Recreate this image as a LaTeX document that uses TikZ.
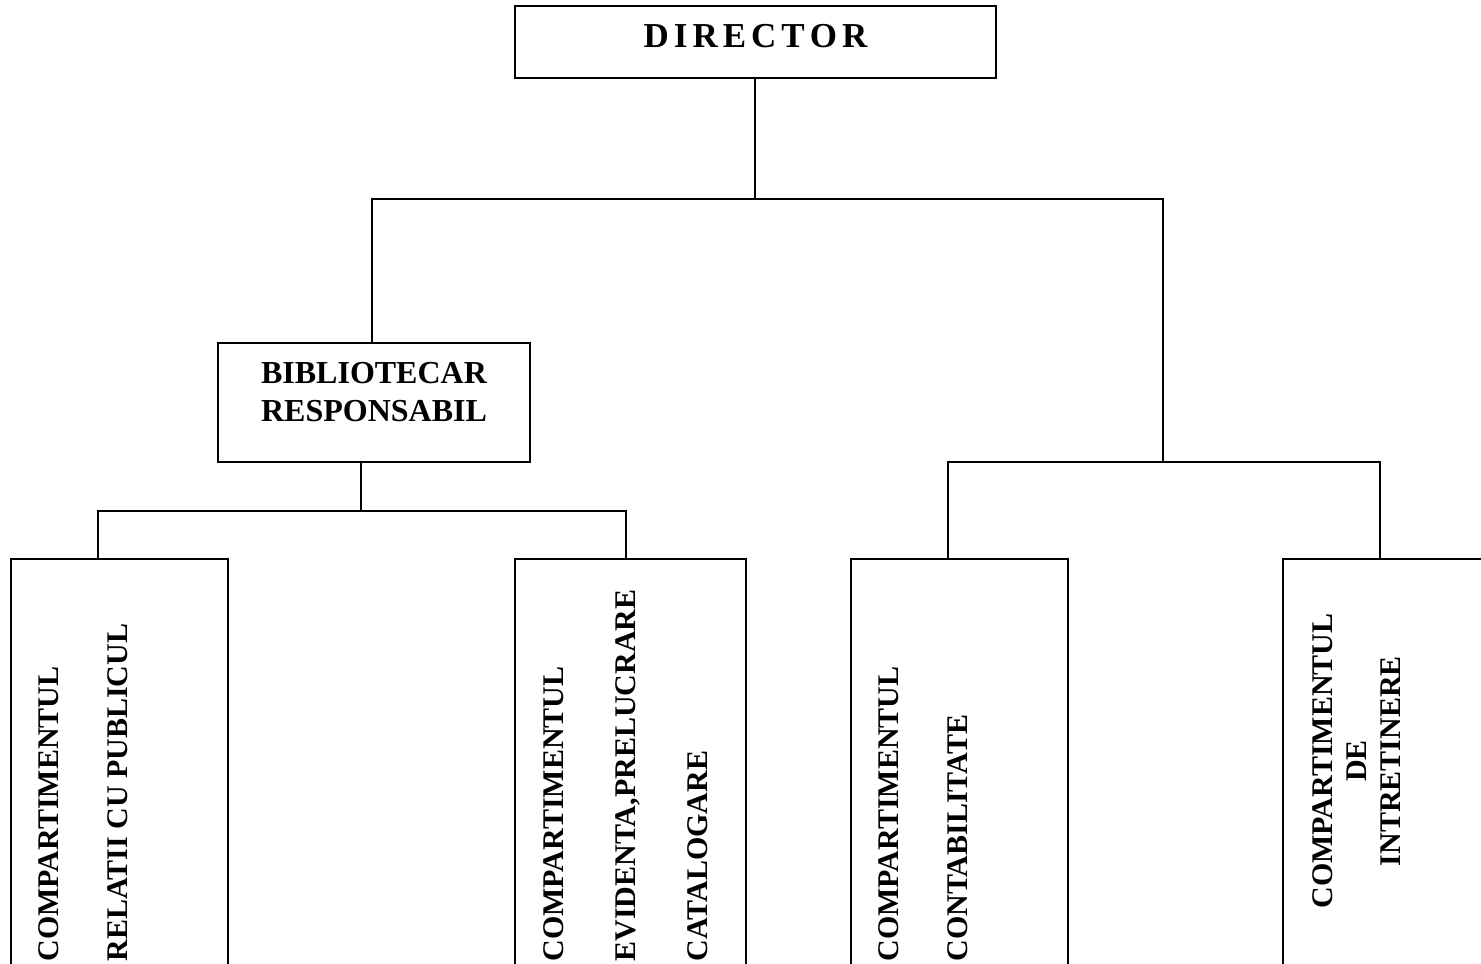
\documentclass[tikz,border=0pt]{standalone}
\usepackage{fontspec}
\setmainfont{Liberation Serif}
\usetikzlibrary{positioning}

\begin{document}
\begin{tikzpicture}[x=0.4pt, y=-0.4pt,
    orgbox/.style={draw, line width=0.8pt, inner sep=0pt, outer sep=0pt, anchor=north west},
    vtext/.style={rotate=90, inner sep=0pt, font=\bfseries\fontsize{12}{#1}\selectfont},
    vtext/.default=27.5pt,
    link/.style={draw, line width=0.8pt}]
    \useasboundingbox (0,0) rectangle (1481,964);
    \clip (0,0) rectangle (1481,964);

    % boxes
    \node (director) [orgbox, minimum width=192.4pt, minimum height=28.8pt] at (515,6) {};
    \node (biblio) [orgbox, minimum width=124.8pt, minimum height=47.6pt] at (218,343) {};
    \node (relatii) [orgbox, minimum width=86.8pt, minimum height=180pt] at (11,559) {};
    \node (evidenta) [orgbox, minimum width=92.4pt, minimum height=180pt] at (515,559) {};
    \node (contab) [orgbox, minimum width=86.8pt, minimum height=180pt] at (851,559) {};
    \node (intretinere) [orgbox, minimum width=100pt, minimum height=180pt] at (1283,559) {};

    % texts
    \node (directorText) [font=\bfseries\fontsize{14}{16}\selectfont, inner sep=0pt] at (755.5,36.5) {\spaceskip=2pt\relax D I R E C T O R};
    \node (biblioText) [font=\bfseries\fontsize{12.8}{15.2}\selectfont, align=center, inner sep=0pt] at (374,392) {BIBLIOTECAR\\RESPONSABIL};
    \node (relatiiText) [vtext, anchor=north west, align=left] at (38,962) {COMPARTIMENTUL\\RELATII CU PUBLICUL};
    \node (evidentaText) [vtext=28.8pt, anchor=north west, align=left] at (543,962) {COMPARTIMENTUL\\EVIDENTA,PRELUCRARE\\CATALOGARE};
    \node (contabText) [vtext, anchor=north west, align=left] at (878,962) {COMPARTIMENTUL\\CONTABILITATE};
    \node (intretinereText) [vtext=13.6pt, align=center] at (1357,761) {COMPARTIMENTUL\\DE\\INTRETINERE};

    % connectors
    \coordinate (topSplit) at (755,199);
    \coordinate (leftDrop) at (372,199);
    \coordinate (rightDrop) at (1163,199);
    \coordinate (rightSplit) at (1163,462);
    \coordinate (contabDrop) at (948,462);
    \coordinate (intretDrop) at (1380,462);
    \coordinate (biblioSplit) at (361,511);
    \coordinate (relatiiDrop) at (98,511);
    \coordinate (evidentaDrop) at (626,511);

    \draw[link] (director.south -| topSplit) -- (topSplit);
    \draw[link] (leftDrop |- biblio.north) -- (leftDrop) -- (rightDrop) -- (rightSplit);
    \draw[link] (contabDrop |- contab.north) -- (contabDrop) -- (intretDrop) -- (intretDrop |- intretinere.north);
    \draw[link] (biblio.south -| biblioSplit) -- (biblioSplit);
    \draw[link] (relatiiDrop |- relatii.north) -- (relatiiDrop) -- (evidentaDrop) -- (evidentaDrop |- evidenta.north);
\end{tikzpicture}
\end{document}
